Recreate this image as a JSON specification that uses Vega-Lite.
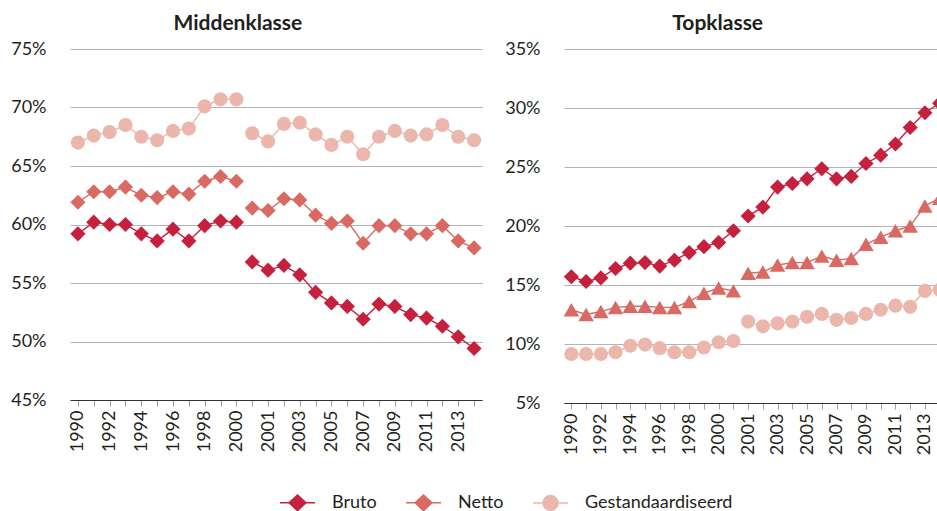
{
  "$schema": "https://vega.github.io/schema/vega-lite/v6.json",
  "padding": {"left": 10, "top": 13, "right": 0, "bottom": 0},
  "background": "white",
  "config": {
    "font": "Lato",
    "view": {"stroke": null},
    "axis": {"labelFontSize": 18, "labelColor": "#231f20", "title": null},
    "title": {"fontSize": 21, "fontWeight": "bold", "color": "#231f20", "font": "Lato"}
  },
  "data": {
    "values": [
      {"k": "M", "j": "1990", "s": "oud", "Bruto": 59.2, "Netto": 61.9, "Gestandaardiseerd": 67.0},
      {"k": "M", "j": "1991", "s": "oud", "Bruto": 60.2, "Netto": 62.8, "Gestandaardiseerd": 67.6},
      {"k": "M", "j": "1992", "s": "oud", "Bruto": 60.0, "Netto": 62.8, "Gestandaardiseerd": 67.9},
      {"k": "M", "j": "1993", "s": "oud", "Bruto": 60.0, "Netto": 63.2, "Gestandaardiseerd": 68.5},
      {"k": "M", "j": "1994", "s": "oud", "Bruto": 59.2, "Netto": 62.5, "Gestandaardiseerd": 67.5},
      {"k": "M", "j": "1995", "s": "oud", "Bruto": 58.6, "Netto": 62.3, "Gestandaardiseerd": 67.2},
      {"k": "M", "j": "1996", "s": "oud", "Bruto": 59.6, "Netto": 62.8, "Gestandaardiseerd": 68.0},
      {"k": "M", "j": "1997", "s": "oud", "Bruto": 58.6, "Netto": 62.6, "Gestandaardiseerd": 68.2},
      {"k": "M", "j": "1998", "s": "oud", "Bruto": 59.9, "Netto": 63.7, "Gestandaardiseerd": 70.1},
      {"k": "M", "j": "1999", "s": "oud", "Bruto": 60.3, "Netto": 64.1, "Gestandaardiseerd": 70.7},
      {"k": "M", "j": "2000", "s": "oud", "Bruto": 60.2, "Netto": 63.7, "Gestandaardiseerd": 70.7},
      {"k": "M", "j": "2000b", "s": "nieuw", "Bruto": 56.8, "Netto": 61.4, "Gestandaardiseerd": 67.8},
      {"k": "M", "j": "2001", "s": "nieuw", "Bruto": 56.1, "Netto": 61.2, "Gestandaardiseerd": 67.1},
      {"k": "M", "j": "2002", "s": "nieuw", "Bruto": 56.5, "Netto": 62.2, "Gestandaardiseerd": 68.6},
      {"k": "M", "j": "2003", "s": "nieuw", "Bruto": 55.7, "Netto": 62.1, "Gestandaardiseerd": 68.7},
      {"k": "M", "j": "2004", "s": "nieuw", "Bruto": 54.2, "Netto": 60.8, "Gestandaardiseerd": 67.7},
      {"k": "M", "j": "2005", "s": "nieuw", "Bruto": 53.3, "Netto": 60.1, "Gestandaardiseerd": 66.8},
      {"k": "M", "j": "2006", "s": "nieuw", "Bruto": 53.0, "Netto": 60.3, "Gestandaardiseerd": 67.5},
      {"k": "M", "j": "2007", "s": "nieuw", "Bruto": 51.9, "Netto": 58.4, "Gestandaardiseerd": 66.0},
      {"k": "M", "j": "2008", "s": "nieuw", "Bruto": 53.2, "Netto": 59.9, "Gestandaardiseerd": 67.5},
      {"k": "M", "j": "2009", "s": "nieuw", "Bruto": 53.0, "Netto": 59.9, "Gestandaardiseerd": 68.0},
      {"k": "M", "j": "2010", "s": "nieuw", "Bruto": 52.3, "Netto": 59.2, "Gestandaardiseerd": 67.6},
      {"k": "M", "j": "2011", "s": "nieuw", "Bruto": 52.0, "Netto": 59.2, "Gestandaardiseerd": 67.7},
      {"k": "M", "j": "2012", "s": "nieuw", "Bruto": 51.3, "Netto": 59.9, "Gestandaardiseerd": 68.5},
      {"k": "M", "j": "2013", "s": "nieuw", "Bruto": 50.4, "Netto": 58.6, "Gestandaardiseerd": 67.5},
      {"k": "M", "j": "2014", "s": "nieuw", "Bruto": 49.4, "Netto": 58.0, "Gestandaardiseerd": 67.2},
      {"k": "T", "j": "1990", "s": "oud", "Bruto": 15.7, "Netto": 12.9, "Gestandaardiseerd": 9.15},
      {"k": "T", "j": "1991", "s": "oud", "Bruto": 15.3, "Netto": 12.5, "Gestandaardiseerd": 9.15},
      {"k": "T", "j": "1992", "s": "oud", "Bruto": 15.6, "Netto": 12.75, "Gestandaardiseerd": 9.15},
      {"k": "T", "j": "1993", "s": "oud", "Bruto": 16.4, "Netto": 13.1, "Gestandaardiseerd": 9.3},
      {"k": "T", "j": "1994", "s": "oud", "Bruto": 16.85, "Netto": 13.2, "Gestandaardiseerd": 9.85},
      {"k": "T", "j": "1995", "s": "oud", "Bruto": 16.9, "Netto": 13.2, "Gestandaardiseerd": 9.95},
      {"k": "T", "j": "1996", "s": "oud", "Bruto": 16.6, "Netto": 13.1, "Gestandaardiseerd": 9.65},
      {"k": "T", "j": "1997", "s": "oud", "Bruto": 17.1, "Netto": 13.1, "Gestandaardiseerd": 9.3},
      {"k": "T", "j": "1998", "s": "oud", "Bruto": 17.75, "Netto": 13.6, "Gestandaardiseerd": 9.3},
      {"k": "T", "j": "1999", "s": "oud", "Bruto": 18.25, "Netto": 14.3, "Gestandaardiseerd": 9.7},
      {"k": "T", "j": "2000", "s": "oud", "Bruto": 18.6, "Netto": 14.75, "Gestandaardiseerd": 10.15},
      {"k": "T", "j": "2000b", "s": "oud", "Bruto": 19.6, "Netto": 14.5, "Gestandaardiseerd": 10.25},
      {"k": "T", "j": "2001", "s": "nieuw", "Bruto": 20.85, "Netto": 16.0, "Gestandaardiseerd": 11.9},
      {"k": "T", "j": "2002", "s": "nieuw", "Bruto": 21.6, "Netto": 16.1, "Gestandaardiseerd": 11.5},
      {"k": "T", "j": "2003", "s": "nieuw", "Bruto": 23.3, "Netto": 16.7, "Gestandaardiseerd": 11.75},
      {"k": "T", "j": "2004", "s": "nieuw", "Bruto": 23.6, "Netto": 16.9, "Gestandaardiseerd": 11.9},
      {"k": "T", "j": "2005", "s": "nieuw", "Bruto": 24.0, "Netto": 16.9, "Gestandaardiseerd": 12.3},
      {"k": "T", "j": "2006", "s": "nieuw", "Bruto": 24.85, "Netto": 17.45, "Gestandaardiseerd": 12.55},
      {"k": "T", "j": "2007", "s": "nieuw", "Bruto": 24.0, "Netto": 17.1, "Gestandaardiseerd": 12.05},
      {"k": "T", "j": "2008", "s": "nieuw", "Bruto": 24.2, "Netto": 17.25, "Gestandaardiseerd": 12.2},
      {"k": "T", "j": "2009", "s": "nieuw", "Bruto": 25.3, "Netto": 18.45, "Gestandaardiseerd": 12.55},
      {"k": "T", "j": "2010", "s": "nieuw", "Bruto": 26.0, "Netto": 19.05, "Gestandaardiseerd": 12.9},
      {"k": "T", "j": "2011", "s": "nieuw", "Bruto": 26.95, "Netto": 19.6, "Gestandaardiseerd": 13.25},
      {"k": "T", "j": "2012", "s": "nieuw", "Bruto": 28.35, "Netto": 20.0, "Gestandaardiseerd": 13.15},
      {"k": "T", "j": "2013", "s": "nieuw", "Bruto": 29.6, "Netto": 21.7, "Gestandaardiseerd": 14.5},
      {"k": "T", "j": "2014", "s": "nieuw", "Bruto": 30.4, "Netto": 22.35, "Gestandaardiseerd": 14.6}
    ]
  },
  "transform": [{"fold": ["Bruto", "Netto", "Gestandaardiseerd"], "as": ["reeks", "waarde"]}],
  "spacing": 20,
  "resolve": {"scale": {"x": "independent", "y": "independent"}},
  "hconcat": [
    {
      "title": {"text": "Middenklasse", "frame": "bounds", "anchor": "middle", "offset": 6, "dx": -9},
      "width": 412,
      "height": 351,
      "transform": [{"filter": "datum.k == 'M'"}],
      "encoding": {
        "x": {
          "field": "j", "type": "ordinal",
          "scale": {"domain": ["1990","1991","1992","1993","1994","1995","1996","1997","1998","1999","2000","2000b","2001","2002","2003","2004","2005","2006","2007","2008","2009","2010","2011","2012","2013","2014"], "paddingInner": 0, "paddingOuter": 0},
          "axis": {"labelAngle": -90, "bandPosition": 0, "tickSize": 6, "tickColor": "#a0a0a0", "domainColor": "#333333", "labelPadding": 4, "grid": false,
                   "labelExpr": "indexof(['1990','1992','1994','1996','1998','2000','2001','2003','2005','2007','2009','2011','2013'], datum.value) >= 0 ? datum.value : ''"}
        },
        "y": {
          "field": "waarde", "type": "quantitative",
          "scale": {"domain": [45, 75], "nice": false, "zero": false},
          "axis": {"values": [45, 50, 55, 60, 65, 70, 75], "labelExpr": "datum.value + '%'", "domain": false, "ticks": false, "labelPadding": 24, "gridColor": "#b4b4b4"}
        },
        "color": {
          "field": "reeks", "type": "nominal",
          "scale": {"domain": ["Bruto", "Netto", "Gestandaardiseerd"], "range": ["#C6203F", "#D96A63", "#EBB6AB"]},
          "legend": {
            "orient": "none", "direction": "horizontal", "legendX": 209, "legendY": 435, "title": null,
            "labelFontSize": 18, "labelColor": "#231f20", "labelOffset": 16, "columnPadding": 26, "symbolSize": 1225, "padding": 0,
            "encode": {
              "symbols": {
                "update": {
                  "shape": {"signal": "datum.value === 'Gestandaardiseerd' ? 'M-1,0H1M-0.43,0A0.43,0.43,0,1,0,0.43,0A0.43,0.43,0,1,0,-0.43,0Z' : 'M-1,0H1M0,-0.45L0.48,0L0,0.45L-0.48,0Z'"},
                  "fill": {"scale": "color", "field": "value"},
                  "stroke": {"scale": "color", "field": "value"},
                  "strokeWidth": {"value": 1.5},
                  "opacity": {"value": 1},
                  "size": {"value": 1225}
                }
              }
            }
          }
        }
      },
      "layer": [
        {"mark": {"type": "line", "strokeWidth": 1.4}, "encoding": {"detail": {"field": "s"}}},
        {"transform": [{"filter": "datum.reeks == 'Gestandaardiseerd'"}], "mark": {"type": "point", "shape": "circle", "filled": true, "opacity": 1, "size": 200}},
        {"transform": [{"filter": "datum.reeks != 'Gestandaardiseerd'"}], "mark": {"type": "point", "shape": "diamond", "filled": true, "opacity": 1, "size": 230}}
      ]
    },
    {
      "title": {"text": "Topklasse", "frame": "bounds", "anchor": "middle", "offset": 6, "dx": -9},
      "width": 383,
      "height": 354,
      "transform": [{"filter": "datum.k == 'T'"}],
      "encoding": {
        "x": {
          "field": "j", "type": "ordinal",
          "scale": {"domain": ["1990","1991","1992","1993","1994","1995","1996","1997","1998","1999","2000","2000b","2001","2002","2003","2004","2005","2006","2007","2008","2009","2010","2011","2012","2013","2014"], "paddingInner": 0, "paddingOuter": 0},
          "axis": {"labelAngle": -90, "bandPosition": 0, "tickSize": 6, "tickColor": "#a0a0a0", "domainColor": "#333333", "labelPadding": 4, "grid": false,
                   "labelExpr": "indexof(['1990','1992','1994','1996','1998','2000','2001','2003','2005','2007','2009','2011','2013'], datum.value) >= 0 ? datum.value : ''"}
        },
        "y": {
          "field": "waarde", "type": "quantitative",
          "scale": {"domain": [5, 35], "nice": false, "zero": false},
          "axis": {"values": [5, 10, 15, 20, 25, 30, 35], "labelExpr": "datum.value + '%'", "domain": false, "ticks": false, "labelPadding": 24, "gridColor": "#b4b4b4"}
        },
        "color": {
          "field": "reeks", "type": "nominal",
          "scale": {"domain": ["Bruto", "Netto", "Gestandaardiseerd"], "range": ["#C6203F", "#D96A63", "#EBB6AB"]}
        }
      },
      "layer": [
        {"mark": {"type": "line", "strokeWidth": 1.4}, "encoding": {"detail": {"field": "s"}}},
        {"transform": [{"filter": "datum.reeks == 'Gestandaardiseerd'"}], "mark": {"type": "point", "shape": "circle", "filled": true, "opacity": 1, "size": 200}},
        {"transform": [{"filter": "datum.reeks == 'Netto'"}], "mark": {"type": "point", "shape": "triangle-up", "filled": true, "opacity": 1, "size": 240}},
        {"transform": [{"filter": "datum.reeks == 'Bruto'"}], "mark": {"type": "point", "shape": "diamond", "filled": true, "opacity": 1, "size": 230}}
      ]
    }
  ]
}
